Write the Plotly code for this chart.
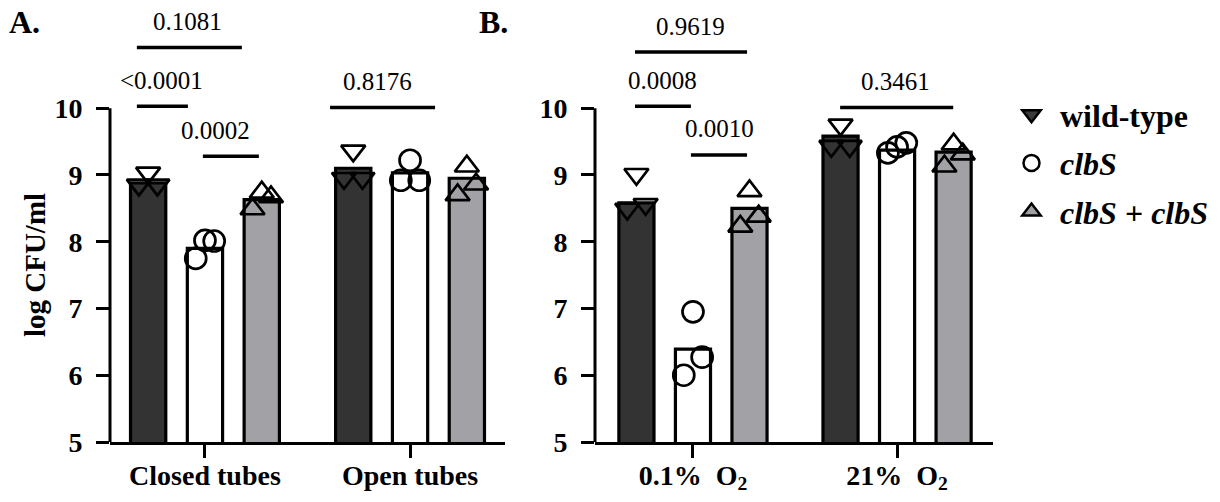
import plotly.graph_objects as go

# ---------------- data ----------------
STRAINS = ["wild-type", "<i>clbS</i>", "<i>clbS</i> + <i>clbS</i>"]
A_GROUPS = ["Closed tubes", "Open tubes"]
B_GROUPS = ["0.1%  O<sub>2</sub>", "21%  O<sub>2</sub>"]

# bar heights (log CFU/ml), one value per group
A_WT_MEAN = [8.88, 9.10]
A_CLBS_MEAN = [7.90, 9.03]
A_COMP_MEAN = [8.63, 8.95]
B_WT_MEAN = [8.58, 9.58]
B_CLBS_MEAN = [6.39, 9.37]
B_COMP_MEAN = [8.50, 9.34]

# individual replicates (left, centre, right) per group
A_WT_PTS = [[8.85, 9.03, 8.85], [8.95, 9.36, 8.95]]
A_CLBS_PTS = [[7.75, 8.02, 8.01], [8.92, 9.22, 8.92]]
A_COMP_PTS = [[8.49, 8.74, 8.67], [8.70, 9.13, 8.86]]
B_WT_PTS = [[8.49, 9.01, 8.56], [9.43, 9.75, 9.43]]
B_CLBS_PTS = [[6.00, 6.95, 6.27], [9.33, 9.42, 9.48]]
B_COMP_PTS = [[8.23, 8.76, 8.38], [9.13, 9.46, 9.31]]

# p-value brackets: label, x start, x end, y level, label x
A_SIG_LABELS = ["0.1081", "<0.0001", "0.0002", "0.8176"]
A_SIG_X0 = [-0.332, -0.332, -0.010, 0.610]
A_SIG_X1 = [0.180, -0.083, 0.263, 1.122]
A_SIG_Y = [10.91, 10.03, 9.28, 10.01]
A_SIG_LX = [-0.085, -0.212, 0.049, 0.839]

B_SIG_LABELS = ["0.9619", "0.0008", "0.0010", "0.3461"]
B_SIG_X0 = [-0.284, -0.284, -0.010, 0.721]
B_SIG_X1 = [0.265, -0.010, 0.265, 1.275]
B_SIG_Y = [10.84, 10.03, 9.30, 10.01]
B_SIG_LX = [-0.010, -0.150, 0.130, 0.990]

Y_TICKS = [5, 6, 7, 8, 9, 10]

# ---------------- styles ----------------
FONT = "Liberation Serif"
BAR_COLORS = ["#333333", "#ffffff", "#a2a2a6"]
LEG_COLORS = ["#3a3a3a", "#ffffff", "#a0a0a4"]
SYMBOLS = ["triangle-down-open", "circle-open", "triangle-up-open"]
LEG_SYMBOLS = ["triangle-down", "circle", "triangle-up"]
OFFSETS = [-0.277, 0.0, 0.277]
JITTER = [-0.045, 0.0, 0.045]
BAR_W = 0.172

fig = go.Figure()

panels = [
    ("x", "y", [A_WT_MEAN, A_CLBS_MEAN, A_COMP_MEAN], [A_WT_PTS, A_CLBS_PTS, A_COMP_PTS]),
    ("x2", "y2", [B_WT_MEAN, B_CLBS_MEAN, B_COMP_MEAN], [B_WT_PTS, B_CLBS_PTS, B_COMP_PTS]),
]

for xa, ya, means, pts in panels:
    for s in range(3):
        fig.add_trace(go.Bar(
            x=[g + OFFSETS[s] for g in range(len(means[s]))],
            y=means[s],
            width=BAR_W,
            marker=dict(color=BAR_COLORS[s], line=dict(color="black", width=3.2)),
            xaxis=xa, yaxis=ya, showlegend=False, hoverinfo="skip",
        ))
    for s in range(3):
        xs, ys = [], []
        for g, reps in enumerate(pts[s]):
            for k, v in enumerate(reps):
                xs.append(g + OFFSETS[s] + JITTER[k])
                ys.append(v)
        fig.add_trace(go.Scatter(
            x=xs, y=ys, mode="markers",
            marker=dict(symbol=SYMBOLS[s], size=21, color="black",
                        line=dict(color="black", width=2.7)),
            cliponaxis=False, xaxis=xa, yaxis=ya, showlegend=False,
        ))

# legend entries
for s in range(3):
    fig.add_trace(go.Scatter(
        x=[None], y=[None], mode="markers", name=STRAINS[s], legendgroup="g%d" % s,
        marker=dict(symbol=LEG_SYMBOLS[s], size=16, color=LEG_COLORS[s],
                    line=dict(color="black", width=2.5)),
        xaxis="x", yaxis="y",
    ))

shapes = []
annotations = []
for xa, ya, labels, x0s, x1s, ys, lxs in [
    ("x", "y", A_SIG_LABELS, A_SIG_X0, A_SIG_X1, A_SIG_Y, A_SIG_LX),
    ("x2", "y2", B_SIG_LABELS, B_SIG_X0, B_SIG_X1, B_SIG_Y, B_SIG_LX),
]:
    for lab, x0, x1, yv, lx in zip(labels, x0s, x1s, ys, lxs):
        shapes.append(dict(type="line", xref=xa, yref=ya, x0=x0, x1=x1, y0=yv, y1=yv,
                           line=dict(color="black", width=3.5)))
        annotations.append(dict(xref=xa, yref=ya, x=lx, y=yv, yshift=26,
                                text=lab.replace("<", "&lt;"), showarrow=False,
                                xanchor="center", yanchor="middle",
                                font=dict(family=FONT, size=25, color="black")))
    # vertical axis line from 5 to 10 only
    shapes.append(dict(type="line", xref=xa + " domain", yref=ya, x0=0, x1=0,
                       y0=Y_TICKS[0], y1=Y_TICKS[-1], line=dict(color="black", width=3)))

annotations.append(dict(xref="paper", yref="y", x=35 / 1220, y=7.65, text="<b>log CFU/ml</b>",
                        textangle=-90, showarrow=False, xanchor="center", yanchor="middle",
                        font=dict(family=FONT, size=29, color="black")))
annotations.append(dict(xref="paper", yref="paper", x=25 / 1220, y=0.968, text="<b>A.</b>",
                        showarrow=False, xanchor="center", yanchor="middle",
                        font=dict(family=FONT, size=32, color="black")))
annotations.append(dict(xref="paper", yref="paper", x=493 / 1220, y=0.968, text="<b>B.</b>",
                        showarrow=False, xanchor="center", yanchor="middle",
                        font=dict(family=FONT, size=32, color="black")))

xcommon = dict(showline=True, linecolor="black", linewidth=3, ticks="outside", ticklen=13,
               tickwidth=3, tickcolor="black", showgrid=False, zeroline=False,
               tickvals=[0, 1], automargin=False, ticklabelstandoff=-7,
               tickfont=dict(family=FONT, size=28, color="black", weight="bold"))
ycommon = dict(range=[5, 11.5], tickvals=Y_TICKS, ticks="outside", ticklen=13, tickwidth=3,
               tickcolor="black", showline=False, showgrid=False, zeroline=False,
               automargin=False, ticklabelstandoff=8,
               tickfont=dict(family=FONT, size=28, color="black", weight="bold"))

fig.update_layout(
    width=1220, height=502,
    margin=dict(l=0, r=0, t=8, b=60, autoexpand=False),
    paper_bgcolor="white", plot_bgcolor="white",
    barmode="overlay",
    xaxis=dict(domain=[110 / 1220, 505 / 1220], range=[-0.463, 1.463],
               ticktext=A_GROUPS, anchor="y", **xcommon),
    xaxis2=dict(domain=[595 / 1220, 993 / 1220], range=[-0.48, 1.47],
                ticktext=B_GROUPS, anchor="y2", **xcommon),
    yaxis=dict(anchor="x", **ycommon),
    yaxis2=dict(anchor="x2", **ycommon),
    shapes=shapes,
    annotations=annotations,
    legend=dict(xref="container", yref="container", x=1003 / 1220, y=1 - 87 / 502,
                xanchor="left", yanchor="top", bgcolor="rgba(0,0,0,0)",
                font=dict(family=FONT, size=32, color="black", weight="bold"),
                itemwidth=47, traceorder="grouped", tracegroupgap=4),
    showlegend=True,
)

fig.write_html("out.html", config={"displayModeBar": False},
               post_script="document.body.style.margin='0';")
